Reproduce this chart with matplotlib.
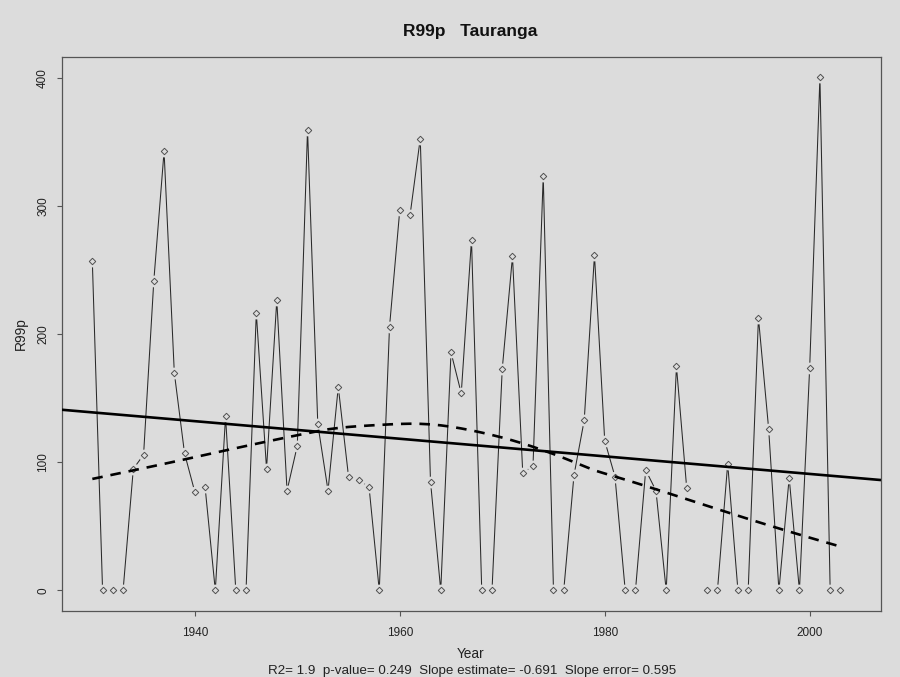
import numpy as np
import matplotlib
matplotlib.use("Agg")
import matplotlib.pyplot as plt

plt.rcParams['font.family'] = ['Liberation Sans', 'DejaVu Sans']

# ---- data ----
years = list(range(1930, 2005))
r99p = [257, 0, 0, 0, 95, 106, 242, 343, 170, 107,
        77, 81, 0, 136, 0, 0, 217, 95, 227, 78,
        113, 360, 130, 78, 159, 89, 86, 81, 0, 206,
        297, 293, 353, 85, 0, 186, 154, 274, 0, 0,
        173, 261, 92, 97, 324, 0, 0, 90, 133, 262,
        117, 89, 0, 0, 94, 78, 0, 175, 80, np.nan,
        0, 0, 99, 0, 0, 213, 126, 0, 88, 0,
        174, 401, 0, 0, np.nan]
title = "R99p   Tauranga"
xlabel = "Year"
ylabel = "R99p"
subtitle = "R2= 1.9  p-value= 0.249  Slope estimate= -0.691  Slope error= 0.595"
xticks = [1940, 1960, 1980, 2000]
yticks = [0, 100, 200, 300, 400]

x = np.array(years, dtype=float)
y = np.array(r99p, dtype=float)
ok = ~np.isnan(y)
xv, yv = x[ok], y[ok]


def lowess(xs, ys, f=2/3, iters=3):
    n = len(xs)
    ns = max(min(int(f * n + 1e-7), n), 2)
    rw = np.ones(n)
    fit = np.zeros(n)
    rng = xs.max() - xs.min()
    for it in range(iters + 1):
        for i in range(n):
            d = np.abs(xs - xs[i])
            h = np.sort(d)[ns - 1]
            w = np.zeros(n)
            inside = d <= 0.999 * h
            r = d[inside] / h
            wi = (1 - r ** 3) ** 3
            wi[d[inside] <= 0.001 * h] = 1.0
            w[inside] = wi
            w = w * rw
            if w.sum() <= 0:
                fit[i] = ys[i]
                continue
            w = w / w.sum()
            a = np.sum(w * xs)
            b = xs[i] - a
            c = np.sum(w * (xs - a) ** 2)
            if np.sqrt(c) > 0.001 * rng:
                b = b / c
                w = w * (b * (xs - a) + 1)
            fit[i] = np.sum(w * ys)
        if it == iters:
            break
        res = ys - fit
        cmad = 6 * np.median(np.abs(res))
        if cmad < 1e-7 * np.mean(np.abs(ys)):
            break
        u = np.abs(res) / cmad
        rw = np.where(u <= 0.001, 1.0, np.where(u > 0.999, 0.0, (1 - u ** 2) ** 2))
    return fit


slope, intercept = np.polyfit(xv, yv, 1)
smooth = lowess(xv, yv)

# ---- figure ----
W, H = 900, 677
bg = '#dcdcdc'
fig = plt.figure(figsize=(W / 100, H / 100), dpi=100, facecolor=bg)
L, R, T, B = 62, 881, 56.6, 611
ax = fig.add_axes([L / W, 1 - B / H, (R - L) / W, (B - T) / H])
ax.set_facecolor(bg)

xlim = (1927.04, 2006.96)
ylim = (-16.04, 417.04)
ax.set_xlim(*xlim)
ax.set_ylim(*ylim)

ax.plot(x, y, color='#2a2a2a', lw=0.75, zorder=2)
ax.plot(xv, yv, ls='none', marker='o', ms=8.5, mfc=bg, mec='none', zorder=3)
ax.plot(xv, yv, ls='none', marker='D', ms=3.3, mfc='none', mec='#505050',
        mew=0.7, zorder=4)

xx = np.array(xlim)
ax.plot(xx, intercept + slope * xx, color='black', lw=1.9, zorder=5,
        solid_capstyle='butt')
ax.plot(xv, smooth, color='black', lw=1.9, ls=(0, (4, 3)), zorder=5)

for s in ax.spines.values():
    s.set_color('#555555')
    s.set_linewidth(0.9)

ax.set_xticks(xticks)
ax.set_yticks(yticks)
ax.tick_params(axis='both', direction='out', length=3.8, width=0.8,
               color='#555555', labelsize=8.5, labelcolor='#222222')
ax.tick_params(axis='x', pad=8)
ax.tick_params(axis='y', pad=5.5)
for lab in ax.get_yticklabels():
    lab.set_rotation(90)
    lab.set_va('center')

def fx(px):
    return px / W

def fy(py):
    return 1 - py / H

fig.text(fx(470), fy(36), title, ha='center', va='baseline',
         fontsize=12.5, fontweight='bold', color='#111111')
fig.text(fx(471), fy(658.5), xlabel, ha='center', va='baseline',
         fontsize=9.8, color='#222222')
fig.text(fx(472), fy(674), subtitle, ha='center', va='baseline',
         fontsize=9.6, color='#222222')
fig.text(fx(21), fy((T + B) / 2), ylabel, ha='center', va='center',
         rotation=90, fontsize=10, color='#222222')

fig.savefig('out.png', dpi=100, facecolor=bg)
